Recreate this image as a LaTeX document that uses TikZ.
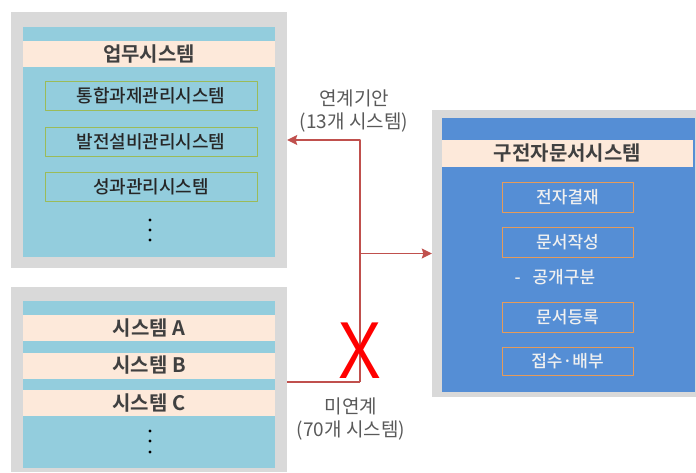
\documentclass[tikz,border=0pt]{standalone}
\usepackage{fontspec}
\setmainfont{Noto Sans CJK KR}[BoldFont={Noto Sans CJK KR Bold}]
\newfontfamily\medfont{Noto Sans CJK KR Medium}
\newfontfamily\thinfont{Noto Sans CJK KR DemiLight}
\usetikzlibrary{arrows.meta}
\definecolor{panelgray}{HTML}{D9D9D9}
\definecolor{skyfill}{HTML}{93CDDD}
\definecolor{peach}{HTML}{FDE9DA}
\definecolor{olive}{HTML}{9BBB59}
\definecolor{docblue}{HTML}{558ED5}
\definecolor{docorange}{HTML}{E59B5A}
\definecolor{linkred}{HTML}{C0504D}
\definecolor{txtgray}{HTML}{404040}
\definecolor{lblgray}{HTML}{595959}
\begin{document}
\begin{tikzpicture}[x=1pt,y=-1pt,>={Stealth[length=10pt,width=10pt,inset=1.5pt]},line join=round,
    panel/.style={fill=panelgray,inner sep=0pt},
    band/.style={fill=peach,inner sep=0pt,minimum height=26pt,text=txtgray,font=\bfseries\fontsize{20}{22}\selectfont},
    subbox/.style={draw=olive,line width=1pt,minimum width=212pt,minimum height=29pt,inner sep=0pt,text=black!85,font=\medfont\fontsize{18}{20}\selectfont},
    docbox/.style={draw=docorange,line width=1pt,minimum width=131pt,minimum height=30pt,inner sep=0pt,text=white!94!black,font=\medfont\fontsize{17}{19}\selectfont},
    link/.style={draw=linkred,line width=1.4pt},
    lbl/.style={align=center,text=lblgray,font=\fontsize{19}{23}\selectfont}]
  \useasboundingbox (0,0) rectangle (696,472);

  % 업무시스템
  \node[panel,minimum width=276pt,minimum height=256pt] (topPanel) at (149,140) {};
  \fill[skyfill] (23,27) rectangle (275,257);
  \node[band,minimum width=252pt] (topTitle) at (149,54) {업무시스템};
  \node[subbox] (taskA) at (151,95.5) {통합과제관리시스템};
  \node[subbox] (taskB) at (151,141.5) {발전설비관리시스템};
  \node[subbox] (taskC) at (151,187) {성과관리시스템};
  \foreach \y in {220,230,240} \fill (150,\y) circle (1.6);

  % 미연계 시스템
  \node[panel,minimum width=276pt,minimum height=185pt] (botPanel) at (149,379.5) {};
  \fill[skyfill] (23,301) rectangle (275,468);
  \node[band,minimum width=252pt] (sysA) at (149,328) {시스템 A};
  \node[band,minimum width=252pt] (sysB) at (149,365.5) {시스템 B};
  \node[band,minimum width=252pt] (sysC) at (149,403) {시스템 C};
  \foreach \y in {431,441,452} \fill (150,\y) circle (1.6);

  % 구전자문서시스템
  \node[panel,minimum width=264pt,minimum height=287pt] (docPanel) at (564,253.5) {};
  \fill[docblue] (442,118) rectangle (695,392);
  \node[band,minimum width=251pt,minimum height=27pt] (docTitle) at (567.5,153.5) {구전자문서시스템};
  \node[docbox] (approve) at (567.5,197.5) {전자결재};
  \node[docbox] (compose) at (567.5,242.5) {문서작성};
  \node[anchor=west,text=white!94!black,font=\medfont\fontsize{17}{19}\selectfont] (pubLbl) at (511,277) {-\hspace{12pt}공개구분};
  \node[docbox] (register) at (567.5,317) {문서등록};
  \node[docbox,minimum height=28pt] (receive) at (567.5,361) {접수·배부};

  % 연계
  \coordinate (tap) at (360,382);
  \draw[link] (botPanel.east |- tap) -- (tap);
  \draw[link,->] (tap) |- (topPanel.east);
  \draw[link,->] (tap |- docPanel.west) -- (docPanel.west);
  \node[text=red,inner sep=0pt,font=\thinfont\fontsize{76}{76}\selectfont] (cutX) at (360,351) {X};

  \node[lbl] (linkedLbl) at (354,111) {연계기안\\(13개 시스템)};
  \node[lbl] (unlinkedLbl) at (351,419) {미연계\\(70개 시스템)};
\end{tikzpicture}
\end{document}
